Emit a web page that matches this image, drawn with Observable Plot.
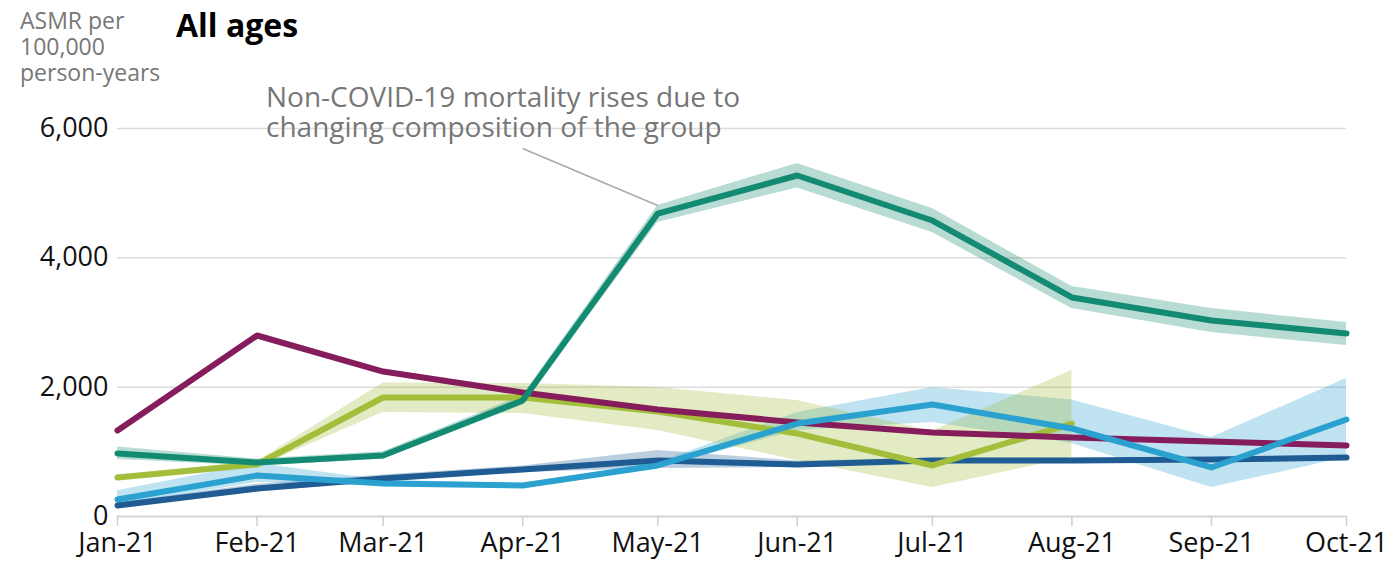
<!DOCTYPE html>
<html>
<head>
<meta charset="utf-8">
<script src="https://cdn.jsdelivr.net/npm/d3@7"></script>
<script src="https://cdn.jsdelivr.net/npm/@observablehq/plot@0.6"></script>
<style>
  body { margin: 0; background: #fff; font-family: "Open Sans", sans-serif; }
  #wrap { position: relative; width: 1394px; height: 565px; }
  #ylab { position: absolute; left: 20px; top: 7px; font-size: 23px; line-height: 26px; color: #777; white-space: nowrap; }
  #title { position: absolute; left: 176px; top: 3px; font-size: 32px; line-height: 43px; font-weight: 700; color: #000; white-space: nowrap; }
  #note { position: absolute; left: 266px; top: 81px; font-size: 28px; line-height: 30px; color: #777; white-space: nowrap; }
  #chart { position: absolute; left: 0; top: 0; }
</style>
</head>
<body>
<div id="wrap">
  <div id="chart"></div>
  <div id="ylab">ASMR per<br>100,000<br>person-years</div>
  <div id="title">All ages</div>
  <div id="note">Non-COVID-19 mortality rises due to<br>changing composition of the group</div>
</div>
<script>
const months = ["2021-01-01","2021-02-01","2021-03-01","2021-04-01","2021-05-01","2021-06-01","2021-07-01","2021-08-01","2021-09-01","2021-10-01"];

// Series A (teal) - annotated group
const tealMid = [975, 835, 943, 1794, 4685, 5273, 4577, 3387, 3031, 2830];
const tealLo  = [880, 780, 890, 1720, 4546, 5080, 4391, 3216, 2845, 2644];
const tealHi  = [1075, 890, 1000, 1870, 4809, 5460, 4763, 3557, 3216, 3000];

// Series B (purple)
const purpleMid = [1330, 2799, 2242, 1917, 1655, 1454, 1299, 1222, 1160, 1098];
const purpleLo  = [1300, 2770, 2215, 1895, 1635, 1435, 1282, 1207, 1145, 1083];
const purpleHi  = [1360, 2828, 2270, 1940, 1675, 1473, 1316, 1237, 1175, 1113];

// Series C (lime) - ends Aug-21
const limeMid = [603, 804, 1840, 1840, 1624, 1283, 789, 1438];
const limeLo  = [570, 760, 1608, 1593, 1330, 866, 448, 912];
const limeHi  = [640, 850, 2065, 2057, 1995, 1794, 1320, 2258];

// Series D (light blue)
const lblueMid = [263, 634, 510, 479, 789, 1438, 1732, 1361, 758, 1500];
const lblueLo  = [170, 526, 470, 450, 750, 1330, 1454, 1130, 448, 912];
const lblueHi  = [400, 820, 560, 510, 830, 1608, 1995, 1800, 1222, 2134];

// Series E (dark blue)
const dblueMid = [170, 433, 588, 727, 866, 804, 866, 866, 881, 912];
const dblueLo  = [130, 380, 540, 680, 742, 760, 830, 830, 850, 880];
const dblueHi  = [210, 500, 640, 780, 1020, 860, 900, 900, 910, 940];

const yTicks = [0, 2000, 4000, 6000];
const leader = [{x1: "2021-04-01", y1: 5690, x2: "2021-05-01", y2: 4810}];

const seriesDefs = [
  {name: "E", color: "#1f5c94", mid: dblueMid, lo: dblueLo, hi: dblueHi},
  {name: "D", color: "#2aa1cf", mid: lblueMid, lo: lblueLo, hi: lblueHi},
  {name: "C", color: "#a3be3a", mid: limeMid, lo: limeLo, hi: limeHi},
  {name: "B", color: "#851c5b", mid: purpleMid, lo: purpleLo, hi: purpleHi},
  {name: "A", color: "#138a72", mid: tealMid, lo: tealLo, hi: tealHi}
];

const rows = s => s.mid.map((v, i) => ({date: new Date(months[i]), v, lo: s.lo[i], hi: s.hi[i]}));

const bandOrder = ["E", "D", "C", "B", "A"];
const lineOrder = ["E", "C", "B", "D", "A"];
const byName = Object.fromEntries(seriesDefs.map(s => [s.name, s]));

const marks = [
  Plot.gridY(yTicks, {stroke: "#dcdcdc", strokeOpacity: 1, strokeWidth: 1.5}),
  Plot.ruleY([0], {stroke: "#d0d0d0", strokeWidth: 1.5}),
  Plot.axisX(months.map(d => new Date(d)), {tickFormat: d3.utcFormat("%b-%y"), tickSize: 10, tickPadding: 6, stroke: "#cfcfcf", strokeWidth: 1.5, fill: "#111", fontSize: 27, label: null}),
  Plot.axisY(yTicks, {tickFormat: d3.format(","), tickSize: 0, tickPadding: 9, fill: "#111", fontSize: 27, label: null})
];
for (const n of bandOrder) {
  const s = byName[n];
  marks.push(Plot.areaY(rows(s), {x: "date", y1: "lo", y2: "hi", fill: s.color, fillOpacity: 0.3}));
}
for (const n of lineOrder) {
  const s = byName[n];
  marks.push(Plot.line(rows(s), {x: "date", y: "v", stroke: s.color, strokeWidth: 6, strokeLinejoin: "round"}));
}
marks.push(Plot.link(leader, {x1: d => new Date(d.x1), y1: "y1", x2: d => new Date(d.x2), y2: "y2", stroke: "#aaa", strokeWidth: 1.5}));

const chart = Plot.plot({
  width: 1394,
  height: 565,
  marginLeft: 117,
  marginRight: 48,
  marginTop: 128,
  marginBottom: 49,
  style: {fontFamily: "Open Sans, sans-serif", fontSize: "27px", color: "#111", background: "transparent", overflow: "visible"},
  x: {type: "utc", domain: [new Date(months[0]), new Date(months[months.length - 1])]},
  y: {domain: [0, 6000]},
  marks
});
document.getElementById("chart").append(chart);
</script>
</body>
</html>
